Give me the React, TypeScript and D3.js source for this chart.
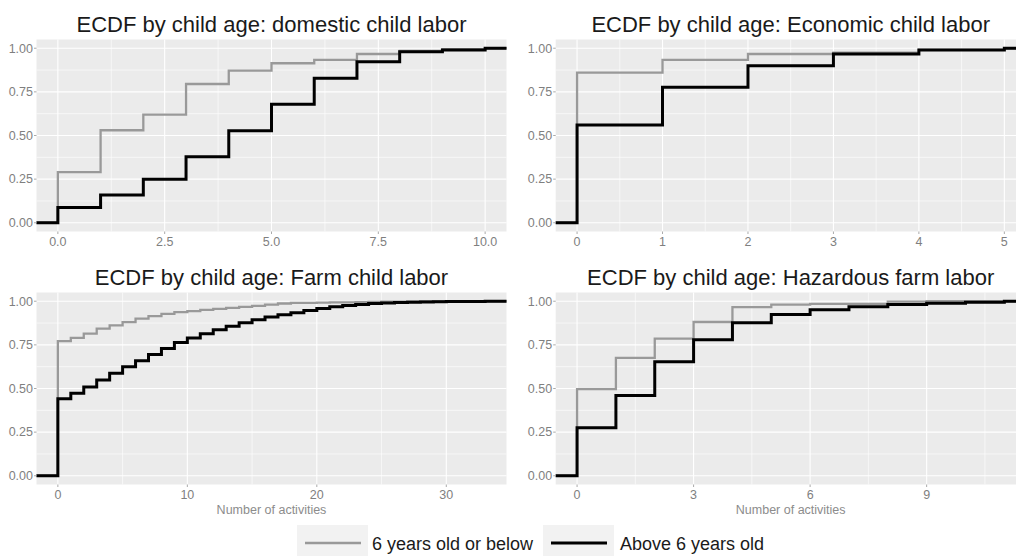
import * as d3 from "d3";

// step positions (number of activities) and ECDF values per group
const domesticX = [0, 1, 2, 3, 4, 5, 6, 7, 8, 9, 10];
const domesticYoung = [0.29, 0.53, 0.62, 0.795, 0.872, 0.914, 0.933, 0.967, 0.985, 0.995, 1.0];
const domesticOld = [0.088, 0.159, 0.249, 0.378, 0.527, 0.679, 0.828, 0.923, 0.98, 0.99, 1.0];

const economicX = [0, 1, 2, 3, 4, 5];
const economicYoung = [0.86, 0.933, 0.967, 0.975, 0.99, 1.0];
const economicOld = [0.56, 0.776, 0.9, 0.967, 0.99, 1.0];

const farmX = d3.range(0, 34);
const farmYoung = [
  0.771, 0.79, 0.814, 0.843, 0.862, 0.88, 0.9, 0.915, 0.928, 0.9375, 0.943, 0.951,
  0.956, 0.962, 0.968, 0.973, 0.981, 0.987, 0.99, 0.991, 0.992, 0.993, 0.994, 0.995,
  0.996, 0.997, 0.998, 0.999, 1.0, 1.0, 1.0, 1.0, 1.0, 1.0,
];
const farmOld = [
  0.441, 0.473, 0.508, 0.549, 0.587, 0.625, 0.659, 0.695, 0.729, 0.763, 0.79, 0.814,
  0.837, 0.856, 0.877, 0.894, 0.909, 0.922, 0.934, 0.947, 0.958, 0.968, 0.975, 0.981,
  0.987, 0.99, 0.992, 0.994, 0.996, 0.997, 0.998, 0.999, 0.999, 1.0,
];

const hazardX = [0, 1, 2, 3, 4, 5, 6, 7, 8, 9, 10, 11];
const hazardYoung = [0.496, 0.676, 0.786, 0.881, 0.966, 0.981, 0.985, 0.985, 0.998, 1.0, 1.0, 1.0];
const hazardOld = [0.275, 0.46, 0.653, 0.78, 0.877, 0.924, 0.951, 0.968, 0.981, 0.989, 0.994, 1.0];

const yTicks = [0, 0.25, 0.5, 0.75, 1];
const groups = ["6 years old or below", "Above 6 years old"];
const groupColors = ["#999999", "#000000"];
const groupWidths = [2.3, 3];

const PANEL_W = 470;
const PANEL_H = 192;

const panels = [
  { id: "p1", title: "ECDF by child age: domestic child labor", xs: domesticX, young: domesticYoung, old: domesticOld,
    ticks: [0, 2.5, 5, 7.5, 10], fmt: d3.format(".1f"), left: 36.5, top: 39.5, xTitle: false },
  { id: "p2", title: "ECDF by child age: Economic child labor", xs: economicX, young: economicYoung, old: economicOld,
    ticks: [0, 1, 2, 3, 4, 5], fmt: d3.format("d"), left: 555.7, top: 39.5, xTitle: false },
  { id: "p3", title: "ECDF by child age: Farm child labor", xs: farmX, young: farmYoung, old: farmOld,
    ticks: [0, 10, 20, 30], fmt: d3.format("d"), left: 36.5, top: 292.5, xTitle: true },
  { id: "p4", title: "ECDF by child age: Hazardous farm labor", xs: hazardX, young: hazardYoung, old: hazardOld,
    ticks: [0, 3, 6, 9], fmt: d3.format("d"), left: 555.7, top: 292.5, xTitle: true },
];

const Panel = ({ p }) => {
  const xMax = d3.max(p.xs);
  const x = d3.scaleLinear().domain([-0.05 * xMax, 1.05 * xMax]).range([0, PANEL_W]);
  const y = d3.scaleLinear().domain([-0.05, 1.05]).range([PANEL_H, 0]);

  // minor gridlines sit halfway between the major ones
  const step = p.ticks[1] - p.ticks[0];
  const xMinor = d3.range(p.ticks[0] - step / 2, 1.05 * xMax, step).filter((v) => x(v) > 0 && x(v) < PANEL_W);
  const yMinor = [0.125, 0.375, 0.625, 0.875];

  const line = d3.line().x((d) => d[0]).y((d) => d[1]).curve(d3.curveStepAfter);
  const ecdfPath = (vals) => {
    const pts = [[-5, y(0)]];
    p.xs.forEach((v, i) => pts.push([x(v), y(vals[i])]));
    pts.push([PANEL_W + 5, y(1)]);
    return line(pts);
  };

  return (
    <g transform={`translate(${p.left},${p.top})`}>
      <text x={PANEL_W / 2} y={-8} textAnchor="middle" fontSize={22} fill="#1a1a1a">{p.title}</text>
      <rect width={PANEL_W} height={PANEL_H} fill="#ebebeb" />
      {yMinor.map((v) => (
        <line key={"ym" + v} x1={0} x2={PANEL_W} y1={y(v)} y2={y(v)} stroke="#fff" strokeWidth={0.6} />
      ))}
      {xMinor.map((v) => (
        <line key={"xm" + v} y1={0} y2={PANEL_H} x1={x(v)} x2={x(v)} stroke="#fff" strokeWidth={0.6} />
      ))}
      {yTicks.map((v) => (
        <line key={"yg" + v} x1={0} x2={PANEL_W} y1={y(v)} y2={y(v)} stroke="#fff" strokeWidth={1.1} />
      ))}
      {p.ticks.map((v) => (
        <line key={"xg" + v} y1={0} y2={PANEL_H} x1={x(v)} x2={x(v)} stroke="#fff" strokeWidth={1.1} />
      ))}
      <clipPath id={"clip" + p.id}>
        <rect width={PANEL_W} height={PANEL_H} />
      </clipPath>
      <g clipPath={`url(#clip${p.id})`}>
        <path d={ecdfPath(p.young)} fill="none" stroke={groupColors[0]} strokeWidth={groupWidths[0]} />
        <path d={ecdfPath(p.old)} fill="none" stroke={groupColors[1]} strokeWidth={groupWidths[1]} />
      </g>
      {yTicks.map((v) => (
        <g key={"yt" + v}>
          <line x1={-2.5} x2={0} y1={y(v)} y2={y(v)} stroke="#aaa" />
          <text x={-3.5} y={y(v) + 4.3} textAnchor="end" fontSize={12.5} fill="#7f7f7f">{d3.format(".2f")(v)}</text>
        </g>
      ))}
      {p.ticks.map((v) => (
        <g key={"xt" + v}>
          <line y1={PANEL_H} y2={PANEL_H + 2.5} x1={x(v)} x2={x(v)} stroke="#aaa" />
          <text x={x(v)} y={PANEL_H + 14.5} textAnchor="middle" fontSize={12.5} fill="#7f7f7f">{p.fmt(v)}</text>
        </g>
      ))}
      {p.xTitle && (
        <text x={PANEL_W / 2} y={PANEL_H + 29.5} textAnchor="middle" fontSize={12.5} fill="#8c8c8c">Number of activities</text>
      )}
    </g>
  );
};

const legendKeys = [
  { x: 297, textX: 372 },
  { x: 543, textX: 620 },
];

export default function App() {
  return (
    <svg width={1016} height={556} style={{ position: "absolute", left: 0, top: 0, background: "#fff" }}
      fontFamily="'Liberation Sans', Arial, sans-serif">
      {panels.map((p) => <Panel key={p.id} p={p} />)}
      {groups.map((g, i) => (
        <g key={g}>
          <rect x={legendKeys[i].x} y={525} width={71} height={36} fill="#f2f2f2" />
          <line x1={legendKeys[i].x + 8} x2={legendKeys[i].x + 64} y1={543} y2={543}
            stroke={groupColors[i]} strokeWidth={groupWidths[i]} />
          <text x={legendKeys[i].textX} y={549.5} fontSize={18} fill="#1a1a1a">{g}</text>
        </g>
      ))}
    </svg>
  );
}
